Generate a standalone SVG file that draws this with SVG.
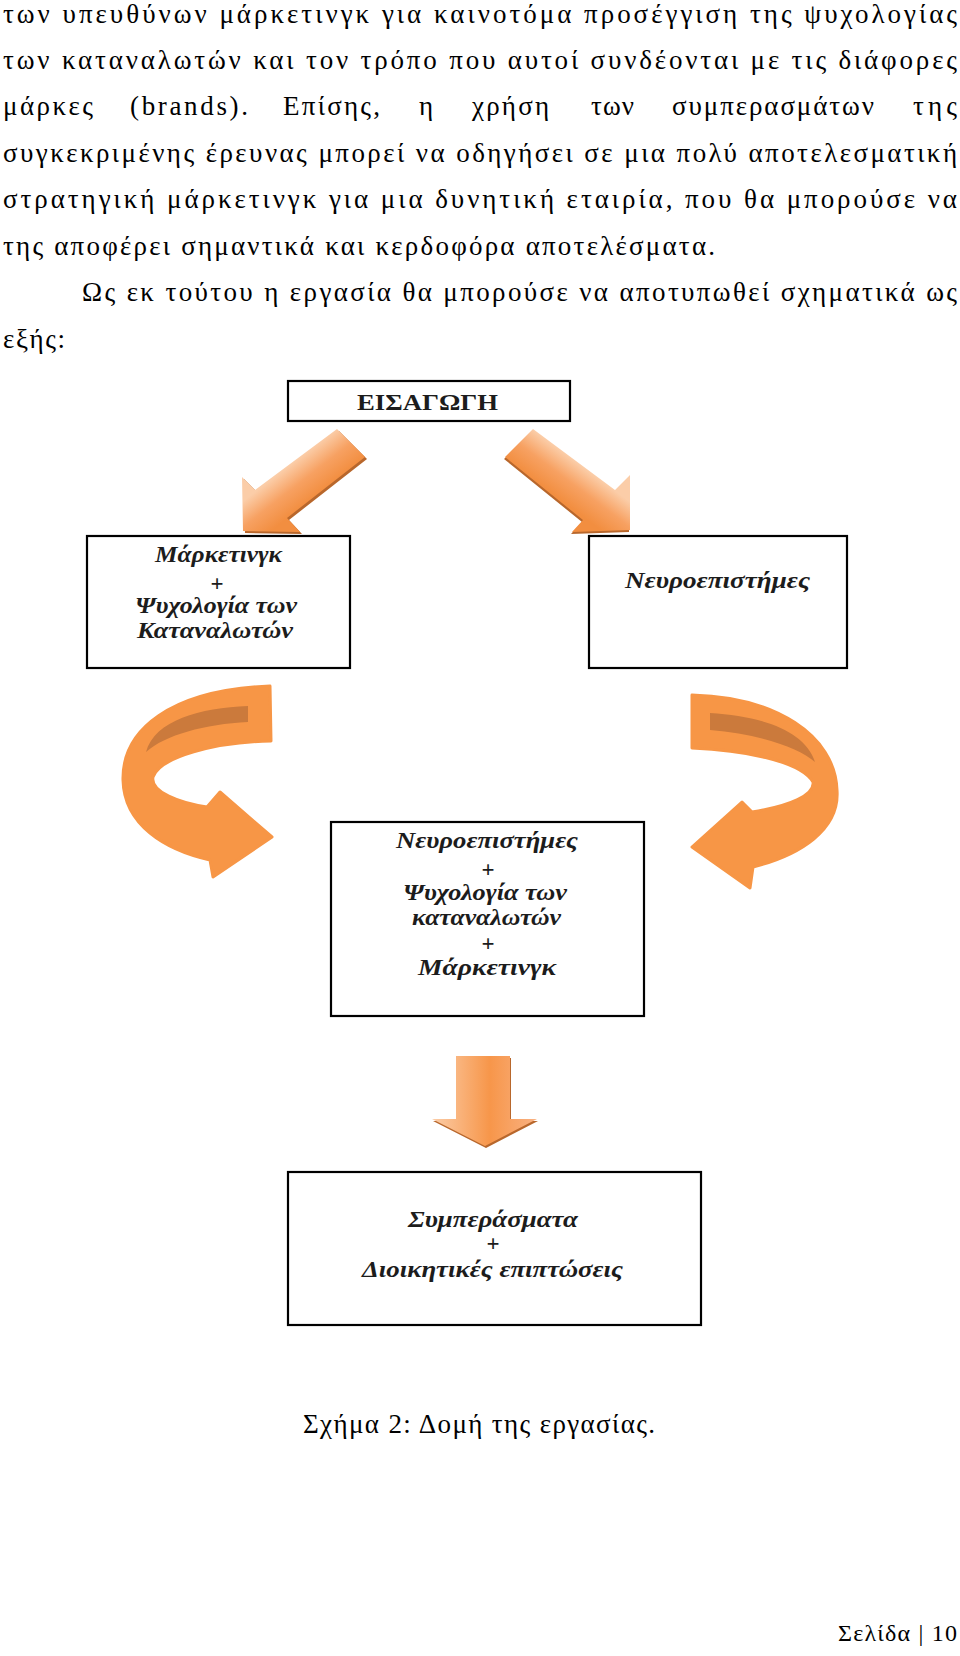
<svg xmlns="http://www.w3.org/2000/svg" width="960" height="1656" viewBox="0 0 960 1656">
<defs>
<style>
.body{font-family:"Liberation Serif","Times New Roman",serif;font-size:27px;fill:#000}
.box{fill:#fff;stroke:#000;stroke-width:2.2}
.lbl{font-family:"Liberation Serif","Times New Roman",serif;font-size:23px;font-weight:bold;font-style:italic;fill:#1c1c1c}
.plus{font-family:"Liberation Serif","Times New Roman",serif;font-size:23px;font-weight:bold;fill:#1c1c1c;text-anchor:middle}
.curve{fill:#F79646;stroke:#F79646;stroke-width:3;stroke-linejoin:round}
.band{fill:#CB7A3C}
.shadow{fill:#B8672C}
</style>
<linearGradient id="gL" gradientUnits="userSpaceOnUse" x1="296" y1="460" x2="321" y2="492">
<stop offset="0" stop-color="#FBCDA8"/><stop offset="0.5" stop-color="#F7A162"/><stop offset="1" stop-color="#F28E40"/>
</linearGradient>
<linearGradient id="gR" gradientUnits="userSpaceOnUse" x1="574" y1="460" x2="550" y2="492">
<stop offset="0" stop-color="#FBCDA8"/><stop offset="0.5" stop-color="#F7A162"/><stop offset="1" stop-color="#F28E40"/>
</linearGradient>
<linearGradient id="gD" gradientUnits="userSpaceOnUse" x1="432" y1="0" x2="537" y2="0">
<stop offset="0" stop-color="#FBCDA8"/><stop offset="0.55" stop-color="#F7964A"/><stop offset="1" stop-color="#F9B283"/>
</linearGradient>
</defs>
<rect width="960" height="1656" fill="#fff"/>

<g id="paragraph">
<text class="body" x="3" y="23" textLength="954" lengthAdjust="spacing">των υπευθύνων μάρκετινγκ για καινοτόμα προσέγγιση της ψυχολογίας</text>
<text class="body" x="3" y="69" textLength="954" lengthAdjust="spacing">των καταναλωτών και τον τρόπο που αυτοί συνδέονται με τις διάφορες</text>
<text class="body" x="3" y="115" textLength="90" lengthAdjust="spacing">μάρκες</text>
<text class="body" x="130" y="115" textLength="118" lengthAdjust="spacing">(brands).</text>
<text class="body" x="283" y="115" textLength="97" lengthAdjust="spacing">Επίσης,</text>
<text class="body" x="419" y="115">η</text>
<text class="body" x="472" y="115" textLength="77" lengthAdjust="spacing">χρήση</text>
<text class="body" x="591" y="115" textLength="43" lengthAdjust="spacing">των</text>
<text class="body" x="672" y="115" textLength="202" lengthAdjust="spacing">συμπερασμάτων</text>
<text class="body" x="913" y="115" textLength="44" lengthAdjust="spacing">της</text>
<text class="body" x="3" y="162" textLength="954" lengthAdjust="spacing">συγκεκριμένης έρευνας μπορεί να οδηγήσει σε μια πολύ αποτελεσματική</text>
<text class="body" x="3" y="208" textLength="954" lengthAdjust="spacing">στρατηγική μάρκετινγκ για μια δυνητική εταιρία, που θα μπορούσε να</text>
<text class="body" x="3" y="255" textLength="712" lengthAdjust="spacing">της αποφέρει σημαντικά και κερδοφόρα αποτελέσματα.</text>
<text class="body" x="82" y="301" textLength="875" lengthAdjust="spacing">Ως εκ τούτου η εργασία θα μπορούσε να αποτυπωθεί σχηματικά ως</text>
<text class="body" x="3" y="348" textLength="62" lengthAdjust="spacing">εξής:</text>
</g>

<g id="connectors">
<g id="arrow-intro-left">
<polygon class="shadow" transform="translate(2,2)" points="337,429 365,457 287,518 300,532 243,531 242,477 255,490"/>
<polygon fill="url(#gL)" points="337,429 365,457 287,518 300,532 243,531 242,477 255,490"/>
</g>
<g id="arrow-intro-right">
<polygon class="shadow" transform="translate(-1,2)" points="533,429 615,490 630,475 630,530 572,532 583,520 505,457"/>
<polygon fill="url(#gR)" points="533,429 615,490 630,475 630,530 572,532 583,520 505,457"/>
</g>
<g id="arrow-left-curve">
<path class="curve" d="M 270,686 L 271,741 C 215,742 160,757 153,777 C 150,792 180,803 207,807 L 220,792 L 272,837 L 213,877 L 210,860 C 165,850 124,825 123,780 C 122,730 170,690 270,686 Z"/>
<path class="band" d="M 248,706 C 200,708 155,720 146,752 C 165,735 205,724 248,722 Z"/>
</g>
<g id="arrow-right-curve">
<path class="curve" d="M 692,695 L 692,748 C 740,750 800,760 813,782 C 815,795 790,806 752,812 L 742,802 L 692,847 L 750,888 L 753,867 C 800,855 840,830 837,790 C 835,735 775,697 692,695 Z"/>
<path class="band" d="M 710,713 C 760,716 805,730 815,762 C 800,748 760,734 710,730 Z"/>
</g>
<g id="arrow-down">
<polygon class="shadow" transform="translate(1,2)" points="456,1056 510,1056 510,1119 537,1119 485,1146 432,1119 456,1119"/>
<polygon fill="url(#gD)" points="456,1056 510,1056 510,1119 537,1119 485,1146 432,1119 456,1119"/>
</g>
</g>

<g id="n-intro">
<rect class="box" x="288" y="381" width="282" height="40"/>
<text x="357" y="410" textLength="141" lengthAdjust="spacingAndGlyphs" style="font-family:'Liberation Serif','Times New Roman',serif;font-size:24px;font-weight:bold;fill:#1c1c1c">ΕΙΣΑΓΩΓΗ</text>
</g>

<g id="n-marketing">
<rect class="box" x="87" y="536" width="263" height="132"/>
<text class="lbl" x="155" y="562" textLength="127" lengthAdjust="spacingAndGlyphs">Μάρκετινγκ</text>
<text class="plus" x="217" y="591">+</text>
<text class="lbl" x="135" y="613" textLength="162" lengthAdjust="spacingAndGlyphs">Ψυχολογία των</text>
<text class="lbl" x="137" y="638" textLength="156" lengthAdjust="spacingAndGlyphs">Καταναλωτών</text>
</g>

<g id="n-neuro">
<rect class="box" x="589" y="536" width="258" height="132"/>
<text class="lbl" x="625" y="588" textLength="185" lengthAdjust="spacingAndGlyphs">Νευροεπιστήμες</text>
</g>

<g id="n-combined">
<rect class="box" x="331" y="822" width="313" height="194"/>
<text class="lbl" x="396" y="848" textLength="182" lengthAdjust="spacingAndGlyphs">Νευροεπιστήμες</text>
<text class="plus" x="488" y="877">+</text>
<text class="lbl" x="403" y="900" textLength="164" lengthAdjust="spacingAndGlyphs">Ψυχολογία των</text>
<text class="lbl" x="412" y="925" textLength="149" lengthAdjust="spacingAndGlyphs">καταναλωτών</text>
<text class="plus" x="488" y="951">+</text>
<text class="lbl" x="418" y="975" textLength="138" lengthAdjust="spacingAndGlyphs">Μάρκετινγκ</text>
</g>

<g id="n-conclusions">
<rect class="box" x="288" y="1172" width="413" height="153"/>
<text class="lbl" x="408" y="1227" textLength="170" lengthAdjust="spacingAndGlyphs">Συμπεράσματα</text>
<text class="plus" x="493" y="1251">+</text>
<text class="lbl" x="362" y="1277" textLength="261" lengthAdjust="spacingAndGlyphs">Διοικητικές επιπτώσεις</text>
</g>

<text class="body" x="303" y="1433" textLength="352" lengthAdjust="spacing">Σχήμα 2: Δομή της εργασίας.</text>
<text class="body" x="838" y="1641" textLength="119" lengthAdjust="spacing" style="font-size:24px">Σελίδα | 10</text>
</svg>
